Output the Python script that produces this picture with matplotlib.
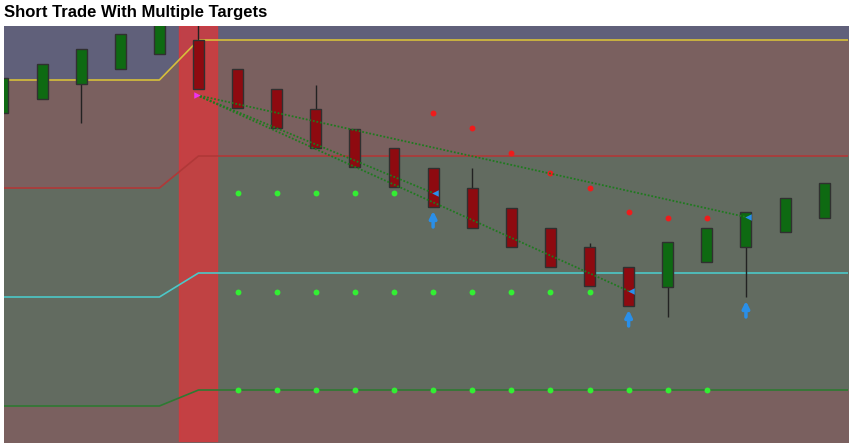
import numpy as np
import matplotlib.pyplot as plt

# candle data (price units ~ chart pixels, up = higher)
opens  = [333, 347, 362, 377, 392, 406, 377, 357, 337, 317, 298, 278, 258, 238, 218, 199, 179, 159, 184, 199, 214, 228]
closes = [368, 382, 397, 412, 426, 357, 338, 318, 298, 279, 259, 239, 218, 199, 179, 160, 140, 204, 218, 234, 248, 263]
highs  = [368, 382, 397, 412, 430, 430, 377, 357, 361, 317, 298, 278, 278, 238, 218, 203, 179, 204, 218, 234, 248, 263]
lows   = [333, 347, 323, 377, 392, 357, 338, 318, 298, 279, 259, 239, 218, 199, 179, 160, 140, 129, 184, 149, 214, 228]

# levels: before / after entry
stop_level = [366, 406]
t1_level = [258, 290]
entry_level = [149, 173]
t2_level = [40, 56]

green_dot_idx = [list(range(6, 11)), list(range(6, 16)), list(range(6, 19))]
green_dot_y = [253, 154, 56]
red_dot_idx = [11, 12, 13, 14, 15, 16, 17, 18]
red_dot_y = [333, 318, 293, 273, 258, 234, 228, 228]
entry = (4.95, 351)
exits = [(11, 253), (16, 155), (19, 229)]

fig = plt.figure(figsize=(8.52, 4.46), dpi=100)
ax = fig.add_axes([4/852, 4/446, 844/852, 416/446])
x0, x1 = 0.026, 21.61
ax.set_xlim(x0, x1)
ax.set_ylim(4, 420)
ax.axis('off')

lx = [x0, 4.0, 5.0, x1]
def lvl(v):
    return [v[0], v[0], v[1], v[1]]

ax.fill_between(lx, lvl(stop_level), 430, color='#60607a', zorder=0)
ax.fill_between(lx, lvl(t1_level), lvl(stop_level), color='#7a605f', zorder=0)
ax.fill_between(lx, lvl(t2_level), lvl(t1_level), color='#626b60', zorder=0)
ax.fill_between(lx, 0, lvl(t2_level), color='#7a605f', zorder=0)
ax.axvspan(4.5, 5.48, color='#d8383c', alpha=0.8, zorder=1)

ax.plot(lx, lvl(stop_level), color='#d6bf3a', lw=1.2, zorder=2)
ax.plot(lx, lvl(t1_level), color='#b03838', lw=1.2, zorder=2)
ax.plot(lx, lvl(entry_level), color='#4cc8c8', lw=1.2, zorder=2)
ax.plot(lx, lvl(t2_level), color='#2e7a32', lw=1.2, zorder=2)

for i, (o, c, h, l) in enumerate(zip(opens, closes, highs, lows)):
    col = '#0e6a12' if c > o else '#8e0a10'
    ax.vlines(i, l, h, color='#222222', lw=1, zorder=3)
    ax.bar(i, abs(c - o), bottom=min(o, c), width=0.28, color=col,
           edgecolor='#303030', lw=1, zorder=4)

for idx, y in zip(green_dot_idx, green_dot_y):
    ax.scatter(idx, [y] * len(idx), s=18, color='#33ee33', lw=0, zorder=5)
ax.scatter(red_dot_idx, red_dot_y, s=18, color='#ee1c1c', lw=0, zorder=5)

for ex, ey in exits:
    ax.plot([entry[0], ex], [entry[1], ey], color='#1f7a1f', lw=1.3, ls=(0, (1, 1)), zorder=6)
    ax.scatter(ex + 0.06, ey, marker='<', s=22, color='#2a8fe8', lw=0, zorder=7)
    low = lows[ex]
    ax.annotate('', xy=(ex, low - 4), xytext=(ex, low - 20),
                arrowprops=dict(arrowstyle='-|>', color='#2a8fe8', lw=2.5, mutation_scale=10,
                                shrinkA=0, shrinkB=0), zorder=7)
ax.scatter(entry[0], entry[1], marker='>', s=22, color='#ee33ee', lw=0, zorder=7)

fig.text(4/852, 1 - 12/446, 'Short Trade With Multiple Targets', fontsize=12, fontweight='bold',
         va='center', ha='left', family='Liberation Sans')
fig.savefig('out.png', dpi=100)
